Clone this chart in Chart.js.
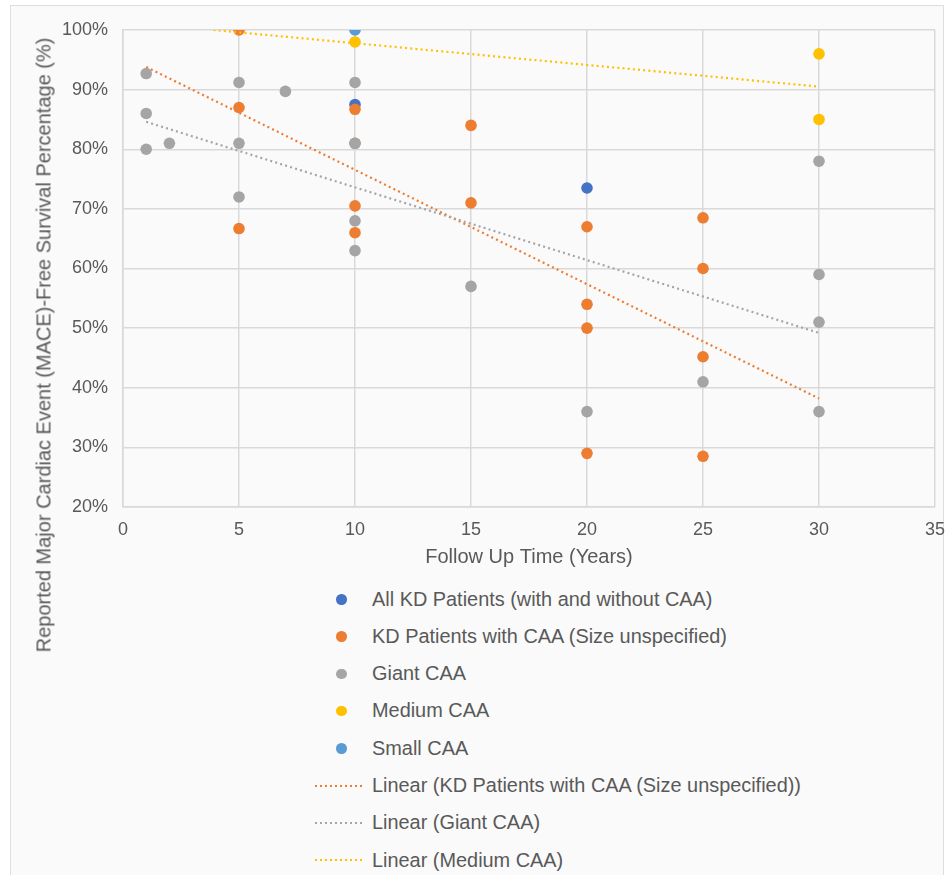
<!DOCTYPE html>
<html>
<head>
<meta charset="utf-8">
<script src="https://cdn.jsdelivr.net/npm/chart.js@4/dist/chart.umd.min.js"></script>
<style>
  html, body { margin: 0; padding: 0; background: #fff; }
  body { width: 949px; height: 875px; position: relative; overflow: hidden;
         font-family: "Liberation Sans", Arial, sans-serif; color: #595959; }
  .frame { position: absolute; left: 10px; top: 5px; width: 934px; height: 900px;
           background: #fafafa; border: 1.5px solid #dedede; box-sizing: border-box; }
  .chart-box { position: absolute; left: 0; top: 0; width: 949px; height: 575px; }
  .y-title { position: absolute; left: 44px; top: 345px; white-space: nowrap;
             font-size: 20px; transform: translate(-50%, -50%) rotate(-90deg); }
  .legend-row { position: absolute; left: 314px; height: 24px; display: flex; align-items: center;
                font-size: 19.9px; white-space: nowrap; transform: translateY(-50%); }
  .legend-key { width: 58px; height: 24px; position: relative; flex: none; }
  .legend-dot { position: absolute; left: 22px; top: 7px; width: 10.5px; height: 10.5px; border-radius: 50%; }
  .legend-line { position: absolute; left: 1px; top: 11px; width: 50px; height: 2px; }
</style>
</head>
<body>
<div class="frame"></div>
<div class="chart-box"><canvas id="chart"></canvas></div>
<div class="y-title">Reported Major Cardiac Event (MACE)-Free Survival Percentage (%)</div>
<div id="legend"></div>

<script>
// ── DATA ───────────────────────────────────────────────────────────────
const ALL_KD_X = [10, 20];
const ALL_KD_Y = [87.5, 73.5];

const CAA_X = [5, 5, 5, 10, 10, 10, 10, 15, 15, 20, 20, 20, 20, 25, 25, 25, 25];
const CAA_Y = [100, 87, 66.7, 86.7, 81, 70.5, 66, 84, 71, 67, 54, 50, 29, 68.5, 60, 45.2, 28.5];

const GIANT_X = [1, 1, 1, 2, 5, 5, 5, 7, 10, 10, 10, 10, 15, 20, 25, 30, 30, 30, 30];
const GIANT_Y = [92.7, 86, 80, 81, 91.2, 81, 72, 89.7, 91.2, 81, 68, 63, 57, 36, 41, 78, 59, 51, 36];

const MEDIUM_X = [10, 30, 30];
const MEDIUM_Y = [98, 96, 85];

const SMALL_X = [10];
const SMALL_Y = [100];

// trendline end points
const TREND_CAA_X = [1, 30];
const TREND_CAA_Y = [93.8, 38.2];
const TREND_GIANT_X = [1, 30];
const TREND_GIANT_Y = [84.6, 49.2];
const TREND_MEDIUM_X = [3.9, 30];
const TREND_MEDIUM_Y = [100, 90.5];

const X_TICKS = [0, 5, 10, 15, 20, 25, 30, 35];
const Y_TICKS = [20, 30, 40, 50, 60, 70, 80, 90, 100];

const LABELS = [
  'All KD Patients (with and without CAA)',
  'KD Patients with CAA (Size unspecified)',
  'Giant CAA',
  'Medium CAA',
  'Small CAA',
  'Linear (KD Patients with CAA (Size unspecified))',
  'Linear (Giant CAA)',
  'Linear (Medium CAA)',
];

const COLORS = {
  blue:   '#4472c4',
  orange: '#ed7d31',
  gray:   '#a5a5a5',
  yellow: '#ffc000',
  light:  '#5b9bd5',
};

const TEXT = '#595959';
const GRID = '#d9d9d9';
const FONT = '"Liberation Sans", Arial, sans-serif';

// ── HELPERS ────────────────────────────────────────────────────────────
const pts = (xs, ys) => xs.map((x, i) => ({ x, y: ys[i] }));

function scatterSet(label, xs, ys, color, order) {
  return {
    type: 'scatter', label, data: pts(xs, ys), order,
    backgroundColor: color, borderColor: color,
    pointRadius: 5.8, pointHoverRadius: 5.8, borderWidth: 0,
  };
}

function trendSet(label, xs, ys, color, order) {
  return {
    type: 'line', label, data: pts(xs, ys), order,
    borderColor: color, borderWidth: 2.2, borderDash: [2, 3.2],
    pointRadius: 0, fill: false, tension: 0, isTrend: true,
  };
}

// ── CHART ──────────────────────────────────────────────────────────────
const datasets = [
  scatterSet(LABELS[0], ALL_KD_X, ALL_KD_Y, COLORS.blue, 5),
  scatterSet(LABELS[1], CAA_X, CAA_Y, COLORS.orange, 4),
  scatterSet(LABELS[2], GIANT_X, GIANT_Y, COLORS.gray, 3),
  scatterSet(LABELS[3], MEDIUM_X, MEDIUM_Y, COLORS.yellow, 2),
  scatterSet(LABELS[4], SMALL_X, SMALL_Y, COLORS.light, 1),
  trendSet(LABELS[5], TREND_CAA_X, TREND_CAA_Y, COLORS.orange, -1),
  trendSet(LABELS[6], TREND_GIANT_X, TREND_GIANT_Y, COLORS.gray, -2),
  trendSet(LABELS[7], TREND_MEDIUM_X, TREND_MEDIUM_Y, COLORS.yellow, -3),
];

new Chart(document.getElementById('chart'), {
  type: 'scatter',
  data: { datasets },
  options: {
    responsive: true,
    maintainAspectRatio: false,
    animation: false,
    layout: { padding: { top: 30, right: 14, left: 0, bottom: 0 } },
    plugins: { legend: { display: false }, tooltip: { enabled: false } },
    scales: {
      x: {
        type: 'linear', min: 0, max: 35,
        afterBuildTicks: s => { s.ticks = X_TICKS.map(v => ({ value: v })); },
        afterFit: s => { s.height = 68; s.paddingRight = 0; },
        grid: { color: GRID, lineWidth: 1.5, drawTicks: false },
        border: { color: GRID, width: 1.5 },
        ticks: { color: TEXT, font: { family: FONT, size: 18 }, padding: 12, maxRotation: 0 },
        title: {
          display: true, text: 'Follow Up Time (Years)', color: TEXT,
          font: { family: FONT, size: 20 }, padding: { top: 0, bottom: 6 },
        },
      },
      y: {
        type: 'linear', min: 20, max: 100,
        afterBuildTicks: s => { s.ticks = Y_TICKS.map(v => ({ value: v })); },
        afterFit: s => { s.width = 123; },
        grid: { color: GRID, lineWidth: 1.5, drawTicks: false },
        border: { color: GRID, width: 1.5 },
        ticks: { color: TEXT, font: { family: FONT, size: 18 }, padding: 15, callback: v => v + '%' },
      },
    },
  },
});

// ── LEGEND (one item per row, like the original) ───────────────────────
const LEGEND_TOP = 599;
const LEGEND_STEP = 37.3;

document.getElementById('legend').innerHTML = datasets.map((d, i) => {
  const key = d.isTrend
    ? `<span class="legend-line" style="background:repeating-linear-gradient(to right, ${d.borderColor} 0 2px, transparent 2px 5px)"></span>`
    : `<span class="legend-dot" style="background:${d.backgroundColor}"></span>`;
  return `<div class="legend-row" style="top:${LEGEND_TOP + i * LEGEND_STEP}px">
            <span class="legend-key">${key}</span><span>${d.label}</span>
          </div>`;
}).join('');
</script>
</body>
</html>
